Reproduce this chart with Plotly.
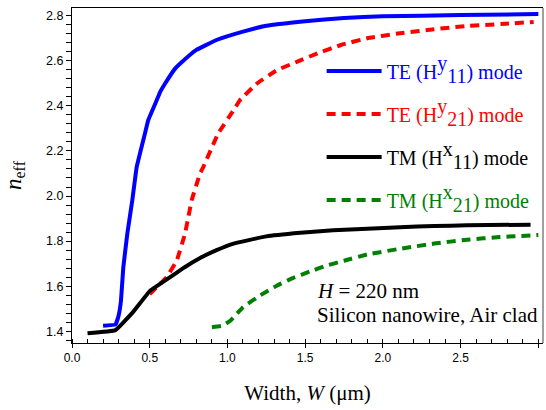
import plotly.graph_objects as go

# Effective index vs waveguide width for a 220 nm silicon nanowire (air clad)
w_te11 = [0.20, 0.28, 0.30, 0.315, 0.33, 0.356, 0.388, 0.416, 0.47, 0.49, 0.545,
          0.566, 0.60, 0.663, 0.70, 0.80, 0.93, 1.10, 1.25, 1.50, 1.75, 2.00, 2.50, 3.00]
n_te11 = [1.425, 1.43, 1.47, 1.536, 1.683, 1.834, 1.981, 2.128, 2.279, 2.336, 2.425,
          2.46, 2.50, 2.565, 2.59, 2.648, 2.692, 2.729, 2.755, 2.775, 2.79, 2.797, 2.803, 2.807]

w_te21 = [0.50, 0.523, 0.609, 0.674, 0.727, 0.77, 0.824, 0.845, 0.94, 1.04, 1.08, 1.19,
          1.32, 1.45, 1.58, 1.73, 1.90, 2.11, 2.33, 2.54, 2.76, 2.97]
n_te21 = [1.565, 1.581, 1.64, 1.714, 1.833, 1.981, 2.10, 2.129, 2.277, 2.381, 2.425, 2.499,
          2.559, 2.596, 2.633, 2.670, 2.700, 2.722, 2.740, 2.754, 2.763, 2.772]

w_tm11 = [0.10, 0.28, 0.395, 0.50, 0.61, 0.72, 0.824, 0.93, 1.04, 1.25, 1.47, 1.68,
          1.90, 2.11, 2.33, 2.54, 2.95]
n_tm11 = [1.391, 1.405, 1.487, 1.578, 1.63, 1.682, 1.725, 1.76, 1.789, 1.821, 1.837, 1.848,
          1.855, 1.862, 1.867, 1.870, 1.873]

w_tm21 = [0.90, 0.97, 1.02, 1.10, 1.21, 1.32, 1.42, 1.53, 1.64, 1.75, 1.90, 2.11, 2.33,
          2.54, 2.75, 3.00]
n_tm21 = [1.418, 1.425, 1.448, 1.507, 1.559, 1.603, 1.636, 1.665, 1.692, 1.713, 1.741,
          1.766, 1.789, 1.806, 1.818, 1.827]

SERIF = "Times New Roman, Liberation Serif, DejaVu Serif, serif"
SANS = "Arial, Liberation Sans, sans-serif"
BIG = '<span style="font-size:20px">{}</span>'


def mode_label(pol, sup, sub, color):
    return (f'<span style="color:{color}">{pol} (H<sup>{BIG.format(sup)}</sup>'
            f'<sub>{BIG.format(sub)}</sub>) mode</span>')


series = [
    (w_te11, n_te11, "#0000ff", "solid", mode_label("TE", "y", "11", "#0000ff")),
    (w_te21, n_te21, "#ff0000", "9px,6px", mode_label("TE", "y", "21", "#ff0000")),
    (w_tm11, n_tm11, "#000000", "solid", mode_label("TM", "x", "11", "#000000")),
    (w_tm21, n_tm21, "#008000", "9px,6px", mode_label("TM", "x", "21", "#008000")),
]

fig = go.Figure()
for i, (w, n, color, dash, label) in enumerate(series):
    fig.add_trace(go.Scatter(
        x=w, y=n, mode="lines", name=label, legendgroup=f"g{i}",
        line=dict(color=color, width=4, dash=dash, shape="spline", smoothing=0.25),
    ))

fig.update_layout(
    width=546, height=410,
    margin=dict(l=72, r=3, t=8, b=67),
    paper_bgcolor="white", plot_bgcolor="white",
    showlegend=True,
    legend=dict(
        x=0.53, y=0.87, xanchor="left", yanchor="top",
        bgcolor="rgba(0,0,0,0)", borderwidth=0,
        font=dict(family=SERIF, size=20, color="black"),
        tracegroupgap=14, itemwidth=55,
    ),
    xaxis=dict(
        range=[0, 3.03], tick0=0, dtick=0.5, tickformat=".1f",
        showgrid=False, zeroline=False,
        showline=True, linecolor="black", linewidth=1, mirror=True,
        ticks="outside", ticklen=4, tickcolor="black",
        minor=dict(dtick=0.1, ticks="inside", ticklen=4, tickcolor="black", showgrid=False),
        tickfont=dict(family=SANS, size=12, color="black"),
        title=dict(text="Width, <i>W</i> (μm)", font=dict(family=SERIF, size=21, color="black"),
                   standoff=20),
    ),
    yaxis=dict(
        range=[1.348, 2.834], tick0=1.4, dtick=0.2, tickformat=".1f",
        showgrid=False, zeroline=False,
        showline=True, linecolor="black", linewidth=1,
        ticks="outside", ticklen=5, tickcolor="black",
        minor=dict(dtick=0.04, ticks="outside", ticklen=5, tickcolor="black", showgrid=False),
        tickfont=dict(family=SANS, size=12.5, color="black"),
        title=dict(text="<i>n</i><sub>eff</sub>", font=dict(family=SERIF, size=23, color="black"),
                   standoff=18),
    ),
    shapes=[dict(type="line", xref="paper", yref="paper", x0=1, x1=1, y0=0, y1=1,
                 line=dict(color="#808080", width=1.5))],
    annotations=[
        dict(text="<i>H</i> = 220 nm", x=1.56, y=1.578, xref="x", yref="y",
             xanchor="left", yanchor="middle", showarrow=False,
             font=dict(family=SERIF, size=21, color="black")),
        dict(text="Silicon nanowire, Air clad", x=1.56, y=1.474, xref="x", yref="y",
             xanchor="left", yanchor="middle", showarrow=False,
             font=dict(family=SERIF, size=21, color="black")),
    ],
)

fig.write_html("out.html")
